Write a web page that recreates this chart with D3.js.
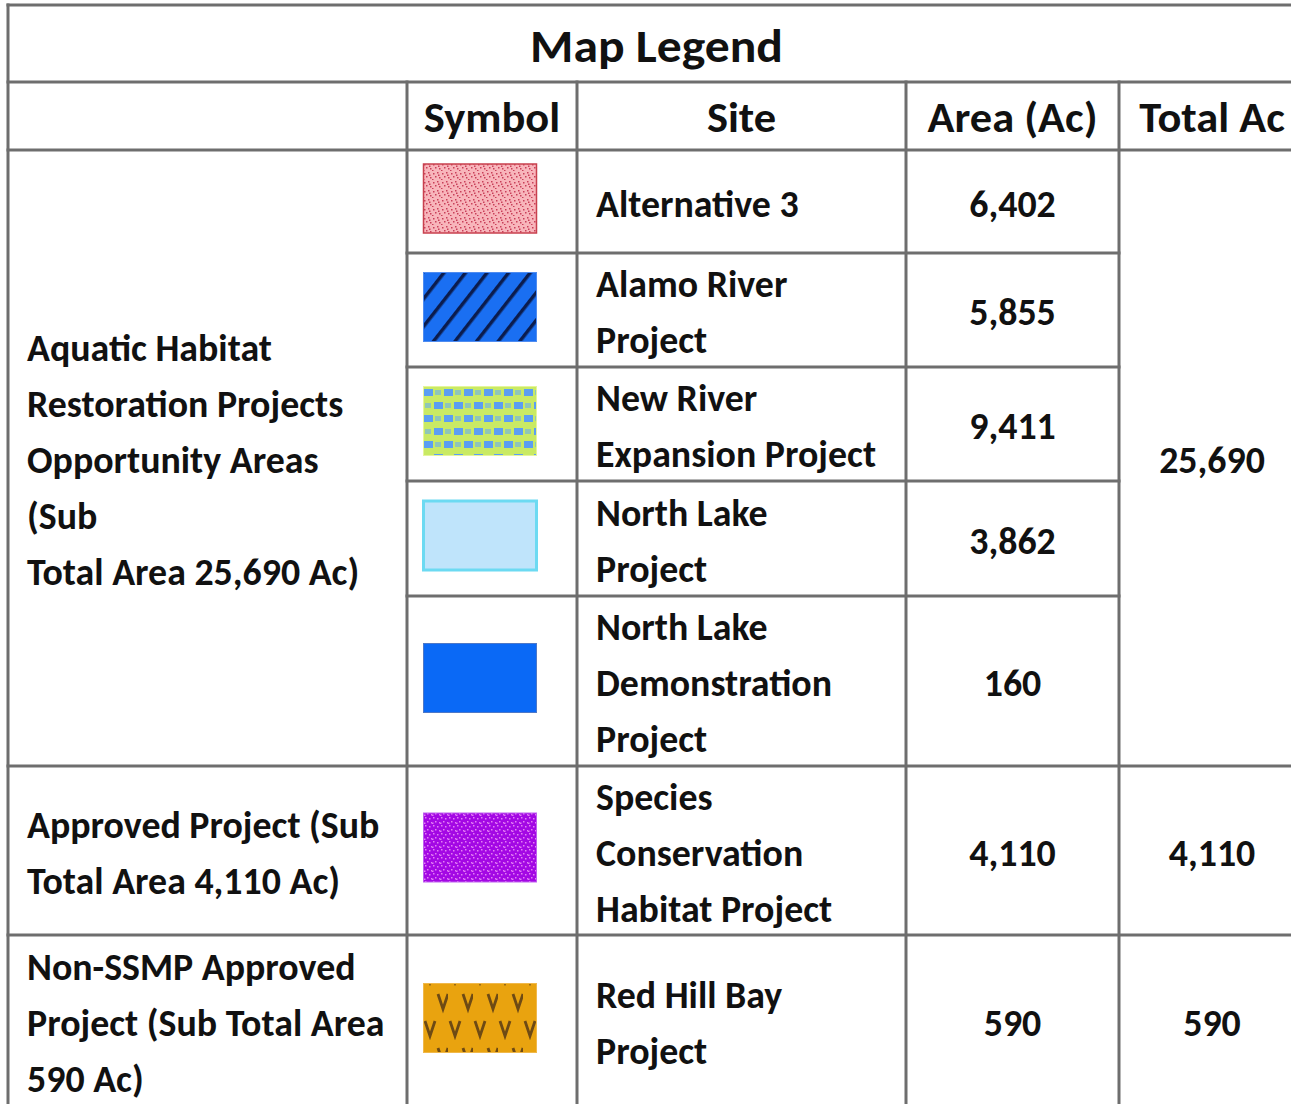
<!DOCTYPE html>
<html>
<head>
<meta charset="utf-8">
<script src="https://cdn.jsdelivr.net/npm/d3@7"></script>
<style>
  body { margin: 0; background: #fff; }
  svg { display: block; }
  text { font-family: Carlito, Lato, 'Open Sans', sans-serif; font-weight: bold; fill: #111; }
</style>
</head>
<body>
<svg id="chart" width="1291" height="1104"></svg>
<script>
//
// Data
//

var title = 'Map Legend'
var headers = ['', 'Symbol', 'Site', 'Area (Ac)', 'Total Ac']
var groupLabels = [
  ['Aquatic Habitat', 'Restoration Projects', 'Opportunity Areas', '(Sub', 'Total Area 25,690 Ac)'],
  ['Approved Project (Sub', 'Total Area 4,110 Ac)'],
  ['Non-SSMP Approved', 'Project (Sub Total Area', '590 Ac)']
]
var groupTotals = [25690, 4110, 590]
var siteNames = [
  ['Alternative 3'],
  ['Alamo River', 'Project'],
  ['New River', 'Expansion Project'],
  ['North Lake', 'Project'],
  ['North Lake', 'Demonstration', 'Project'],
  ['Species', 'Conservation', 'Habitat Project'],
  ['Red Hill Bay', 'Project']
]
var siteAreas = [6402, 5855, 9411, 3862, 160, 4110, 590]
var siteGroup = [0, 0, 0, 0, 0, 1, 2]
var siteSymbols = ['stippleRed', 'hatchBlue', 'latticeGreen', 'paleBlue', 'solidBlue', 'stipplePurple', 'vOrange']

//
// Layout
//

var colEdges = [8, 407, 577, 906, 1119, 1305]
var rowEdges = [150, 253, 367, 481, 596, 766, 935, 1107]
var titleTop = 5, headTop = 82
var lineH = 56
var lineColor = '#6e6e6e'
var fmt = d3.format(',')

var svg = d3.select('#chart')
var x = d3.scaleOrdinal().domain(d3.range(colEdges.length)).range(colEdges)
var y = d3.scaleOrdinal().domain(d3.range(rowEdges.length)).range(rowEdges)
function colMid(i) { return (x(i) + x(i + 1)) / 2 }
function rowMid(i) { return (y(i) + y(i + 1)) / 2 }

// rows spanned by each group
var groupRows = groupLabels.map(function(_, g) {
  var idx = d3.range(siteGroup.length).filter(function(i) { return siteGroup[i] === g })
  return [d3.min(idx), d3.max(idx) + 1]
})

//
// Patterns
//

var defs = svg.append('defs')

var p = defs.append('pattern').attr('id', 'stippleRed').attr('patternUnits', 'userSpaceOnUse')
  .attr('width', 9).attr('height', 9)
p.append('rect').attr('width', 9).attr('height', 9).attr('fill', '#f8b5bb')
;[[1, 2], [5, 1], [3, 5], [7, 6], [0, 8], [6, 3.5]].forEach(function(d) {
  p.append('rect').attr('x', d[0]).attr('y', d[1]).attr('width', 1.5).attr('height', 1.5).attr('fill', '#c8405a')
})

p = defs.append('pattern').attr('id', 'hatchBlue').attr('patternUnits', 'userSpaceOnUse')
  .attr('width', 17).attr('height', 17).attr('patternTransform', 'rotate(38)')
p.append('rect').attr('width', 17).attr('height', 17).attr('fill', '#1a6ff2')
p.append('rect').attr('x', 6).attr('width', 3.5).attr('height', 17).attr('fill', '#0b1c4e')

p = defs.append('pattern').attr('id', 'latticeGreen').attr('patternUnits', 'userSpaceOnUse')
  .attr('x', 423).attr('y', 388).attr('width', 20).attr('height', 26)
p.append('rect').attr('width', 20).attr('height', 26).attr('fill', '#c9ea64')
p.append('rect').attr('x', 1).attr('y', 1).attr('width', 9).attr('height', 7).attr('fill', '#5b9ef3')
p.append('rect').attr('x', 11).attr('y', 14).attr('width', 9).attr('height', 7).attr('fill', '#5b9ef3')
p.append('rect').attr('x', 12).attr('y', 2).attr('width', 6).attr('height', 5).attr('fill', '#8fc6b8')
p.append('rect').attr('x', 2).attr('y', 15).attr('width', 6).attr('height', 5).attr('fill', '#8fc6b8')

p = defs.append('pattern').attr('id', 'stipplePurple').attr('patternUnits', 'userSpaceOnUse')
  .attr('width', 8).attr('height', 8)
p.append('rect').attr('width', 8).attr('height', 8).attr('fill', '#a308e4')
;[[1, 1], [5, 2], [3, 5], [7, 6], [0, 6.5]].forEach(function(d) {
  p.append('rect').attr('x', d[0]).attr('y', d[1]).attr('width', 1.5).attr('height', 1.5).attr('fill', '#e47ef4')
})

// two staggered rows of "V" marks
p = defs.append('pattern').attr('id', 'vOrange').attr('patternUnits', 'userSpaceOnUse')
  .attr('x', 423).attr('y', 986).attr('width', 25).attr('height', 54)
p.append('rect').attr('width', 25).attr('height', 54).attr('fill', '#e9a30f')
p.append('path').attr('d', 'M15,8 L20,23 L25,8').attr('fill', 'none').attr('stroke', '#6e4a14').attr('stroke-width', 2.8)
p.append('path').attr('d', 'M2,35 L7,50 L12,35').attr('fill', 'none').attr('stroke', '#6e4a14').attr('stroke-width', 2.8)

var symbolStyle = {
  stippleRed: { fill: 'url(#stippleRed)', stroke: '#c8404e', sw: 1.5 },
  hatchBlue: { fill: 'url(#hatchBlue)', stroke: '#4f8cf0', sw: 1 },
  latticeGreen: { fill: 'url(#latticeGreen)', stroke: '#e6f59a', sw: 1 },
  paleBlue: { fill: '#bfe4fb', stroke: '#6cdaf2', sw: 3 },
  solidBlue: { fill: '#0a69f6', stroke: '#4d78c8', sw: 1 },
  stipplePurple: { fill: 'url(#stipplePurple)', stroke: '#c060f0', sw: 1 },
  vOrange: { fill: 'url(#vOrange)', stroke: '#f0b84a', sw: 1 }
}

//
// Text helpers
//

function addText(cls, tx, ty, str, anchor) {
  svg.append('text')
    .attr('class', cls)
    .datum({ x: tx, y: ty })
    .attr('text-anchor', anchor)
    .attr('transform', 'translate(' + tx + ',' + ty + ')')
    .text(str)
}

function addLines(cls, tx, cy, lines, anchor) {
  var n = lines.length
  lines.forEach(function(l, i) {
    addText(cls, tx, cy + 15 + (i - (n - 1) / 2) * lineH, l, anchor)
  })
}

// squeeze each text class so a reference string matches its width in the source
function squeeze(cls, refStr, target) {
  var nodes = svg.selectAll('text.' + cls)
  var ref = nodes.filter(function() { return this.textContent === refStr }).node()
  var k = target / ref.getComputedTextLength()
  nodes.attr('transform', function(d) { return 'translate(' + d.x + ',' + d.y + ') scale(' + k + ',1)' })
}

//
// Symbols
//

siteSymbols.forEach(function(s, i) {
  var st = symbolStyle[s]
  svg.append('rect')
    .attr('x', 423.5).attr('y', rowMid(i) - 3 - 34.5)
    .attr('width', 113).attr('height', 69)
    .attr('fill', st.fill).attr('stroke', st.stroke).attr('stroke-width', st.sw)
})

//
// Text
//

addText('title', (x(0) + x(5)) / 2, 62, title, 'middle')
headers.forEach(function(h, i) {
  if (h) addText('head', colMid(i), 132, h, 'middle')
})

groupLabels.forEach(function(lines, g) {
  var r = groupRows[g]
  addLines('body', 27, (y(r[0]) + y(r[1])) / 2, lines, 'start')
  addLines('body', colMid(4), (y(r[0]) + y(r[1])) / 2, [fmt(groupTotals[g])], 'middle')
})

siteNames.forEach(function(lines, i) {
  addLines('body', 596, rowMid(i), lines, 'start')
  addLines('body', colMid(3), rowMid(i), [fmt(siteAreas[i])], 'middle')
})

svg.selectAll('text.title').style('font-size', '46px')
svg.selectAll('text.head').style('font-size', '43px')
svg.selectAll('text.body').style('font-size', '38px')

squeeze('title', 'Map Legend', 253)
squeeze('head', 'Area (Ac)', 170)
squeeze('body', 'Aquatic Habitat', 245)

//
// Grid lines
//

var lines = []
lines.push([x(0), titleTop, x(5), titleTop])
lines.push([x(0), headTop, x(5), headTop])
lines.push([x(0), y(0), x(5), y(0)])
d3.range(1, rowEdges.length).forEach(function(r) {
  var groupEdge = groupRows.some(function(gr) { return gr[0] === r || gr[1] === r })
  if (groupEdge) lines.push([x(0), y(r), x(5), y(r)])
  else lines.push([x(1), y(r), x(4), y(r)])
})
lines.push([x(0), titleTop, x(0), y(rowEdges.length - 1)])
d3.range(1, 5).forEach(function(c) {
  lines.push([x(c), headTop, x(c), y(rowEdges.length - 1)])
})

svg.append('g').selectAll('line')
  .data(lines)
  .enter()
  .append('line')
  .attr('x1', function(d) { return d[0] })
  .attr('y1', function(d) { return d[1] })
  .attr('x2', function(d) { return d[2] })
  .attr('y2', function(d) { return d[3] })
  .attr('stroke', lineColor)
  .attr('stroke-width', 3)
  .attr('stroke-linecap', 'square')
</script>
</body>
</html>
